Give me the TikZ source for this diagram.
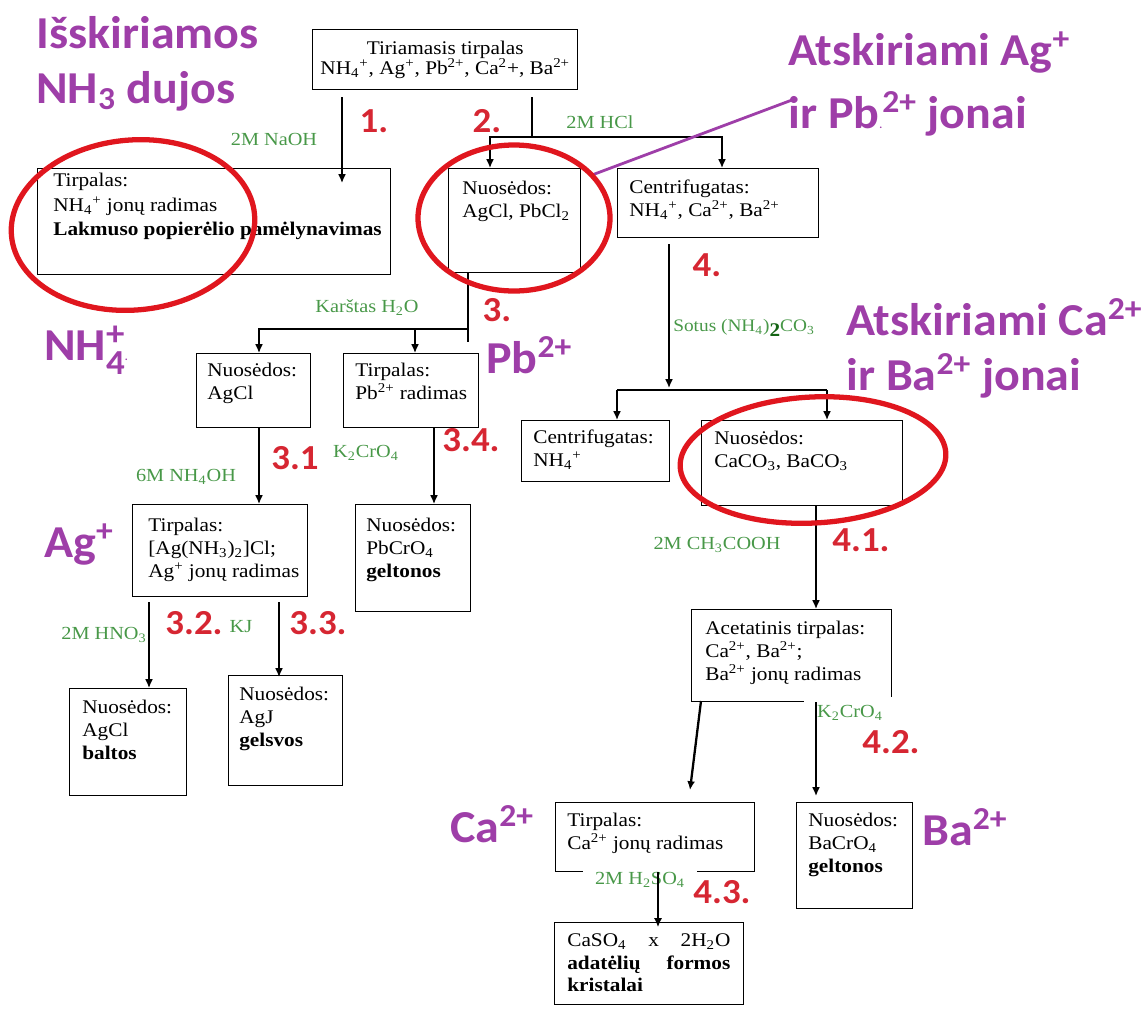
\documentclass[tikz,border=0pt]{standalone}
\usepackage{fontspec}
\setmainfont{Liberation Serif}[FakeStretch=1.1]
\newfontfamily\calib{Carlito}[FakeStretch=1.05]
\usetikzlibrary{arrows.meta,calc}

\definecolor{ionpurple}{RGB}{158,62,168}
\definecolor{stepred}{RGB}{214,38,50}
\definecolor{ringred}{RGB}{224,22,30}
\definecolor{reagent}{RGB}{72,152,72}
\definecolor{darkreagent}{RGB}{20,100,20}

\newcommand{\ionup}[1]{\textsuperscript{#1}}
\newcommand{\iondn}[1]{\textsubscript{#1}}

\tikzset{
  box/.style={draw, line width=0.8pt, inner sep=0pt, anchor=north west},
  boxtext/.style={anchor=north west, align=left, inner sep=0pt, font=\fontsize{11}{13}\selectfont},
  reag/.style={text=reagent, inner sep=1pt, font=\fontsize{10.5}{12}\selectfont},
  stepno/.style={text=stepred, inner sep=0pt, font=\calib\bfseries\fontsize{20}{22}\selectfont},
  ion/.style={text=ionpurple, anchor=base west, inner sep=0pt, font=\calib\bfseries\fontsize{26}{30}\selectfont},
  ring/.style={draw=ringred, line width=3pt},
  flow/.style={-{Latex[length=5pt,width=4.5pt]}, line width=0.9pt},
}

\begin{document}
\begin{tikzpicture}[x=0.2mm,y=-0.2mm]
                        \useasboundingbox (0,0) rectangle (1143,1008);
                        % Start solution
                        \node[box, minimum width=53mm, minimum height=12mm] (T) at (312,29) {};
                        \node[align=center, inner sep=0pt, font=\fontsize{11}{11.5}\selectfont] (Tt) at (T.center) {Tiriamasis tirpalas\\NH\iondn{4}\ionup{+}, Ag\ionup{+}, Pb\ionup{2+}, Ca\ionup{2}+, Ba\ionup{2+}};
                        % Step 1 and 2
                        \node[box, minimum width=70.6mm, minimum height=21.2mm] (B1) at (37,168) {};
                        \node[boxtext, font=\fontsize{11}{14}\selectfont] (B1t) at ($(B1.north west)+(16,5)$) {Tirpalas:\\NH\iondn{4}\ionup{+} jonų radimas\\\textbf{Lakmuso popierėlio pamėlynavimas}};
                        \node[box, minimum width=26.4mm, minimum height=20.8mm] (B2) at (448,168) {};
                        \node[boxtext] (B2t) at ($(B2.north west)+(14,13)$) {Nuosėdos:\\AgCl, PbCl\iondn{2}};
                        \node[box, minimum width=40.2mm, minimum height=13.8mm] (B3) at (617,168) {};
                        \node[boxtext] (B3t) at ($(B3.north west)+(12,12)$) {Centrifugatas:\\NH\iondn{4}\ionup{+}, Ca\ionup{2+}, Ba\ionup{2+}};
                        % Step 3
                        \node[box, minimum width=22.8mm, minimum height=14.8mm] (B4) at (196,353) {};
                        \node[boxtext] (B4t) at ($(B4.north west)+(11,10)$) {Nuosėdos:\\AgCl};
                        \node[box, minimum width=27mm, minimum height=14.8mm] (B5) at (343,353) {};
                        \node[boxtext] (B5t) at ($(B5.north west)+(12,10)$) {Tirpalas:\\Pb\ionup{2+} radimas};
                        \node[box, minimum width=35mm, minimum height=18.4mm] (B6) at (132,504) {};
                        \node[boxtext] (B6t) at ($(B6.north west)+(16,14)$) {Tirpalas:\\{[}Ag(NH\iondn{3})\iondn{2}]Cl;\\Ag\ionup{+} jonų radimas};
                        \node[box, minimum width=23mm, minimum height=21.4mm] (B7) at (355,504) {};
                        \node[boxtext] (B7t) at ($(B7.north west)+(11,14)$) {Nuosėdos:\\PbCrO\iondn{4}\\\textbf{geltonos}};
                        \node[box, minimum width=23.4mm, minimum height=21.4mm] (B8) at (69,688) {};
                        \node[boxtext] (B8t) at ($(B8.north west)+(13,12)$) {Nuosėdos:\\AgCl\\\textbf{baltos}};
                        \node[box, minimum width=22.8mm, minimum height=22mm] (B9) at (228,675) {};
                        \node[boxtext] (B9t) at ($(B9.north west)+(11,12)$) {Nuosėdos:\\AgJ\\\textbf{gelsvos}};
                        % Step 4
                        \node[box, minimum width=29.6mm, minimum height=12.2mm] (B10) at (521,420) {};
                        \node[boxtext] (B10t) at ($(B10.north west)+(12,10)$) {Centrifugatas:\\NH\iondn{4}\ionup{+}};
                        \node[box, minimum width=40.2mm, minimum height=17mm] (B11) at (701,420) {};
                        \node[boxtext] (B11t) at ($(B11.north west)+(13,11)$) {Nuosėdos:\\CaCO\iondn{3}, BaCO\iondn{3}};
                        \node[box, minimum width=40mm, minimum height=18.4mm] (B12) at (691,609) {};
                        \node[boxtext] (B12t) at ($(B12.north west)+(14,12)$) {Acetatinis tirpalas:\\Ca\ionup{2+}, Ba\ionup{2+};\\Ba\ionup{2+} jonų radimas};
                        \node[box, minimum width=39.8mm, minimum height=13.8mm] (B13) at (555,802) {};
                        \node[boxtext] (B13t) at ($(B13.north west)+(12,11)$) {Tirpalas:\\Ca\ionup{2+} jonų radimas};
                        \node[box, minimum width=23.2mm, minimum height=21.2mm] (B14) at (796,802) {};
                        \node[boxtext] (B14t) at ($(B14.north west)+(12,11)$) {Nuosėdos:\\BaCrO\iondn{4}\\\textbf{geltonos}};
                        \node[box, minimum width=37.8mm, minimum height=16.4mm] (B15) at (554,922) {};
                        \node[boxtext, text width=32.6mm] (B15t) at ($(B15.north west)+(13,11)$) {CaSO\iondn{4}\hfill x\hfill 2H\iondn{2}O\\\textbf{adatėlių\hfill formos}\\\textbf{kristalai}};
                        % reagents on the box edges
                        \node[reag, fill=white, anchor=north, inner xsep=2.6mm, inner ysep=1.6mm] (r42) at (850,697) {K\iondn{2}CrO\iondn{4}};
                        \node[reag, fill=white, anchor=north, inner xsep=2.4mm, inner ysep=0.8mm] (r43) at (640,868) {2M H\iondn{2}SO\iondn{4}};
                        % free ends
                        \coordinate (t1) at (342,97);
                        \coordinate (e1) at (342,183);
                        \coordinate (t2) at (532,97);
                        \coordinate (j2) at (532,137);
                        \coordinate (j3) at (468,329);
                        \coordinate (t3) at (468,342);
                        \coordinate (e4) at (669,388);
                        \coordinate (j4a) at (617,390);
                        \coordinate (j4b) at (827,390);
                        \coordinate (t32) at (149,602);
                        \coordinate (t33) at (279,602);
                        \coordinate (tca) at (701,701);
                        \coordinate (eca) at (690,790);
                        \coordinate (e42) at (816,796);
                        % links
                        \draw [flow] (t1) -- (e1);
                        \draw [line width=0.9pt] (t2) -- (j2);
                        \draw [flow] (j2) -| ($(B2.north west)+(42,0)$);
                        \draw [flow] (j2) -| ($(B3.north west)+(105,0)$);
                        \draw [line width=0.9pt] ($(B2.south west)+(20,0)$) -- (t3);
                        \draw [flow] (j3) -| ($(B4.north west)+(63,0)$);
                        \draw [flow] (j3) -| ($(B5.north west)+(72,0)$);
                        \draw [flow] ($(B4.south west)+(63,0)$) -- ($(B6.north west)+(127,0)$);
                        \draw [flow] ($(B5.south west)+(91,0)$) -- ($(B7.north west)+(79,0)$);
                        \draw [flow] (t32) -- ($(B8.north west)+(80,0)$);
                        \draw [flow] (t33) -- ($(B9.north west)+(51,2)$);
                        \draw [flow] ($(B3.south west)+(52,6)$) -- (e4);
                        \draw [line width=0.9pt] (j4a) -- (j4b);
                        \draw [flow] (j4a) -- ($(B10.north west)+(96,0)$);
                        \draw [flow] (j4b) -- ($(B11.north west)+(126,0)$);
                        \draw [flow] ($(B11.south west)+(115,0)$) -- ($(B12.north west)+(125,0)$);
                        \draw [flow, line width=1.3pt] (tca) -- (eca);
                        \draw [flow] ($(B12.south west)+(125,0)$) -- (e42);
                        \draw [flow, line width=0.7pt] ($(B13.south west)+(103,0)$) -- ($(B15.north west)+(104,5)$);
                        % reagents
                        \node[reag] (r1) at (274,139) {2M NaOH};
                        \node[reag] (r2) at (600,122) {2M HCl};
                        \node[reag] (r3) at (367,308) {Karštas H\iondn{2}O};
                        \node[reag] (r31) at (186,477) {6M NH\iondn{4}OH};
                        \node[reag] (r34) at (366,453) {K\iondn{2}CrO\iondn{4}};
                        \node[reag] (r32) at (104,635) {2M HNO\iondn{3}};
                        \node[reag] (r33) at (241,627) {KJ};
                        \node[reag, font=\fontsize{10}{11}\selectfont] (r4) at (744,328) {Sotus (NH\iondn{4})\raisebox{-3pt}{\textcolor{darkreagent}{\fontsize{11}{11}\selectfont\bfseries 2}}CO\iondn{3}};
                        \node[reag] (r41) at (717,545) {2M CH\iondn{3}COOH};
                        % step numbers
                        \node[stepno] (s1) at (374,121) {1.};
                        \node[stepno] (s2) at (487,121) {2.};
                        \node[stepno] (s3) at (497,310) {3.};
                        \node[stepno] (s31) at (295,458) {3.1};
                        \node[stepno] (s34) at (471,440) {3.4.};
                        \node[stepno] (s32) at (194,623) {3.2.};
                        \node[stepno] (s33) at (318,623) {3.3.};
                        \node[stepno] (s4) at (707,265) {4.};
                        \node[stepno] (s41) at (861,540) {4.1.};
                        \node[stepno] (s42) at (891,742) {4.2.};
                        \node[stepno] (s43) at (722,892) {4.3.};
                        % notes in purple
                        \node[ion] (gasA) at (36,48) {Išskiriamos};
                        \node[ion] (gasB) at (36,103) {NH\iondn{3} dujos};
                        \node[ion] (sepA) at (788,65) {Atskiriami Ag\ionup{+}};
                        \node[ion] (sepB) at (788,128) {ir Pb{\fontsize{6}{6}\selectfont.}\ionup{2+} jonai};
                        \node[ion] (nh4) at (44,360) {NH\rlap{\raisebox{8.5pt}{\fontsize{20}{20}\selectfont +}}\raisebox{-8.5pt}{\fontsize{20}{20}\selectfont 4}{\fontsize{6}{6}\selectfont.}};
                        \node[ion] (pb) at (486,373) {Pb\ionup{2+}};
                        \node[ion] (sepC) at (846,335) {Atskiriami Ca\ionup{2+}};
                        \node[ion] (sepD) at (846,390) {ir Ba\ionup{2+} jonai};
                        \node[ion] (ag) at (44,557) {Ag\ionup{+}};
                        \node[ion] (ca) at (450,842) {Ca\ionup{2+}};
                        \node[ion] (ba) at (922,845) {Ba\ionup{2+}};
                        \coordinate (lk1) at (592,175);
                        \coordinate (lk2) at (792,100);
                        \draw [ionpurple, line width=1.6pt] (lk1) -- (lk2);
                        % red rings
                        \draw [ring, rotate around={5:(133,225)}] (133,225) ellipse [x radius=122, y radius=85];
                        \draw [ring] (514,218) ellipse [x radius=96, y radius=73];
                        \draw [ring, rotate around={3:(813,460)}] (813,460) ellipse [x radius=133, y radius=63];
                    \end{tikzpicture}
\end{document}
